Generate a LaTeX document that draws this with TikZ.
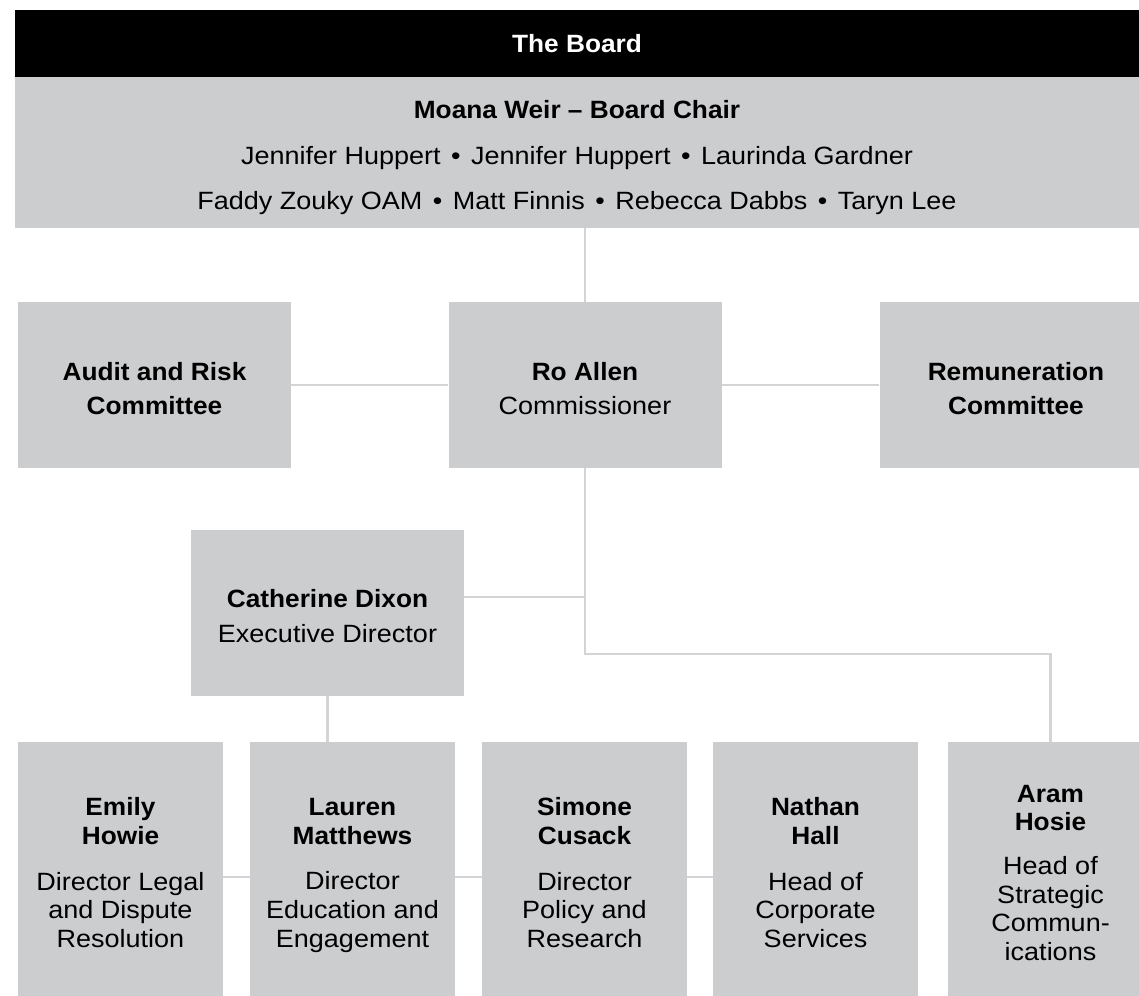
\documentclass[tikz,border=0pt]{standalone}
\usepackage{fontspec}
\setmainfont[FakeStretch=1.08, BoldFeatures={FakeStretch=1.05}]{Liberation Sans}
\usetikzlibrary{calc}
\definecolor{boxgrey}{RGB}{204,205,207}
\definecolor{linegrey}{RGB}{212,212,214}
\newcommand{\sepdot}{\hspace{0.42em}•\hspace{0.42em}}
% invisible strut that raises the first line of a block
\newcommand{\padtop}[1]{\rule{0pt}{#1}}
\begin{document}
\begin{tikzpicture}[x=1pt,y=-1pt,
  box/.style={fill=boxgrey, inner sep=0pt, align=center, text=black,
    font=\fontsize{25}{34}\selectfont},
  wide/.style={box, minimum width=273pt, minimum height=166pt},
  tall/.style={box, minimum width=205pt, minimum height=270pt,
    font=\fontsize{25}{28.7}\selectfont},
  link/.style={draw=linegrey, line width=2.5pt}]
\useasboundingbox (0,0) rectangle (1139,995);
\clip (0,0) rectangle (1139,995);

% Board header and members
\node[fill=black, text=white, minimum width=1124pt, minimum height=67pt,
  inner sep=0pt, font=\fontsize{25}{30}\selectfont\bfseries]
  (boardhead) at (577,44) {The Board};
\node[box, minimum width=1124pt, minimum height=151pt] (board) at (577,152.5) {};
\node[align=center, inner sep=0pt, font=\fontsize{25}{45.5}\selectfont]
  (members) at (577,158)
  {\textbf{Moana Weir – Board Chair}\\
   Jennifer Huppert\sepdot Jennifer Huppert\sepdot Laurinda Gardner\\
   Faddy Zouky OAM\sepdot Matt Finnis\sepdot Rebecca Dabbs\sepdot Taryn Lee};

% Commissioner and committees
\node[wide] (audit) at (154.5,385)
  {\padtop{25pt}\textbf{Audit and Risk}\\\textbf{Committee}};
\node[wide] (ro) at (585,385)
  {\padtop{25pt}\textbf{Ro Allen}\\Commissioner};
\node[wide] (remun) at (1016,385)
  {\padtop{25pt}\textbf{Remuneration}\\\textbf{Committee}};

% Executive director
\node[wide, font=\fontsize{25}{35}\selectfont] (cath) at (327.5,613)
  {\padtop{24.5pt}\textbf{Catherine Dixon}\\Executive Director};

% Directors and heads
\node[tall] (emily) at (120.5,877)
  {\textbf{Emily}\\\textbf{Howie}\\[17pt]Director Legal\\and Dispute\\Resolution\strut};
\node[tall] (lauren) at (352.5,877)
  {\textbf{Lauren}\\\textbf{Matthews}\\[17pt]Director\\Education and\\Engagement\strut};
\node[tall] (simone) at (584.5,877)
  {\textbf{Simone}\\\textbf{Cusack}\\[17pt]Director\\Policy and\\Research\strut};
\node[tall] (nathan) at (815.5,877)
  {\textbf{Nathan}\\\textbf{Hall}\\[17pt]Head of\\Corporate\\Services\strut};
\node[tall] (aram) at (1050.5,877)
  {\textbf{Aram}\\\textbf{Hosie}\\[15pt]Head of\\Strategic\\Commun-\\ications\strut};

% Connectors
\coordinate (bend) at (585,654);
\coordinate (cathjoin) at ([yshift=16pt]cath.east);
\draw[link] (ro.north |- board.south) -- (ro.north);
\draw[link] (audit.east) -- (ro.west);
\draw[link] (ro.east) -- (remun.west);
\draw[link] (ro.south) -- (bend) -| (aram.north);
\draw[link] (cathjoin) -- (cathjoin -| ro.south);
\draw[link] (cath.south) -- (cath.south |- lauren.north);
\draw[link] (emily.east) -- (lauren.west);
\draw[link] (lauren.east) -- (simone.west);
\draw[link] (simone.east) -- (nathan.west);
\end{tikzpicture}
\end{document}
